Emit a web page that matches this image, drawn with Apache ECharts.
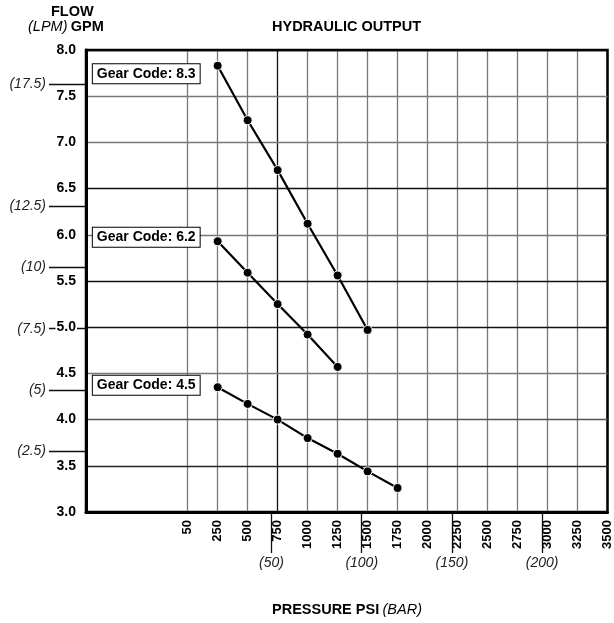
<!DOCTYPE html>
<html>
<head>
<meta charset="utf-8">
<script src="https://cdn.jsdelivr.net/npm/echarts@6/dist/echarts.min.js"></script>
<style>
html,body{margin:0;padding:0;background:#fff}
#chart{width:614px;height:623px}
</style>
</head>
<body>
<div id="chart"></div>
<script>
// x categories (psi), drawn at equal spacing
var pressureLabels = ['50','250','500','750','1000','1250','1500','1750','2000','2250','2500','2750','3000','3250','3500'];
var barTicks = [50, 100, 150, 200];
var lpmTicks = [2.5, 5, 7.5, 10, 12.5, 17.5];

var gear83Psi = ['250','500','750','1000','1250','1500'];
var gear83Gpm = [7.83, 7.24, 6.70, 6.12, 5.56, 4.97];
var gear62Psi = ['250','500','750','1000','1250'];
var gear62Gpm = [5.93, 5.59, 5.25, 4.92, 4.57];
var gear45Psi = ['250','500','750','1000','1250','1500','1750'];
var gear45Gpm = [4.35, 4.17, 4.00, 3.80, 3.63, 3.44, 3.26];

var FONT = 'Liberation Sans';
var xIdx = pressureLabels.map(function(p, i){ return i; });

function makeData(psi, gpm, offset){
	var out = [];
	for(var i = 0; i < psi.length; i++){
		var item = {value: [pressureLabels.indexOf(psi[i]), gpm[i]]};
		if(i == 0){
			item.label = {show: true, offset: offset};
		}
		out.push(item);
	}
	return out;
}

function gearSeries(name, psi, gpm, offset){
	return {
		name: name,
		type: 'line',
		xAxisIndex: 0,
		yAxisIndex: 0,
		data: makeData(psi, gpm, offset),
		symbol: 'circle',
		symbolSize: 9,
		lineStyle: {color: '#000', width: 2.2},
		itemStyle: {color: '#000', borderColor: '#fff', borderWidth: 1},
		label: {
			show: false,
			position: 'left',
			distance: 13,
			formatter: 'Gear Code: ' + name,
			fontFamily: FONT,
			fontWeight: 'bold',
			fontSize: 14,
			color: '#000',
			backgroundColor: '#fff',
			borderColor: '#000',
			borderWidth: 1,
			padding: [3, 4, 2, 4]
		},
		emphasis: {disabled: true},
		animation: false
	};
}

var xLineColors = ['#777','#777','#777','#111','#777','#777','#777','#777','#777','#777','#777','#777','#777','#777','#000'];
var yLineColors = ['#000','#222','#555','#777','#111','#111','#777','#111','#777','#777','#000'];

var myChart = echarts.init(document.getElementById('chart'));
var option = {
	animation: false,
	grid: {
		left: 86, right: 5, top: 50, bottom: 111,
		show: true, borderColor: '#000', borderWidth: 2.5,
		backgroundColor: 'transparent'
	},
	xAxis: [{
		type: 'value',
		min: -3.39,
		max: 14,
		position: 'bottom',
		z: 0,
		axisLine: {show: true, onZero: false, lineStyle: {color: '#000', width: 3}},
		axisTick: {show: false, customValues: xIdx},
		axisLabel: {
			customValues: xIdx,
			rotate: 90,
			margin: 8,
			formatter: function(v){ return pressureLabels[Math.round(v)]; },
			fontFamily: FONT, fontWeight: 'bold', fontSize: 13, color: '#000'
		},
		splitLine: {show: true, lineStyle: {color: xLineColors, width: 1.3}}
	}, {
		type: 'value',
		min: -52.8,
		max: 236.2,
		position: 'bottom',
		z: 0,
		axisLine: {show: false, onZero: false},
		axisTick: {show: true, customValues: barTicks, length: 41, lineStyle: {color: '#111', width: 1.3}},
		axisLabel: {
			customValues: barTicks,
			margin: 44,
			formatter: function(v){ return '(' + v + ')'; },
			fontFamily: FONT, fontStyle: 'italic', fontSize: 14, color: '#222'
		},
		splitLine: {show: false}
	}],
	yAxis: [{
		type: 'value',
		min: 3,
		max: 8,
		interval: 0.5,
		position: 'left',
		z: 1,
		axisLine: {show: true, onZero: false, lineStyle: {color: '#000', width: 3}},
		axisTick: {show: false},
		axisLabel: {
			margin: 9,
			formatter: function(v){ return v.toFixed(1); },
			fontFamily: FONT, fontWeight: 'bold', fontSize: 14, color: '#000',
			backgroundColor: '#fff', padding: [0, 1]
		},
		splitLine: {show: true, lineStyle: {color: yLineColors, width: 1.3}}
	}, {
		type: 'value',
		min: 0,
		max: 18.9,
		position: 'left',
		z: 0,
		axisLine: {show: false, onZero: false},
		axisTick: {show: true, customValues: lpmTicks, length: 37, lineStyle: {color: '#111', width: 1.3}},
		axisLabel: {
			customValues: lpmTicks,
			margin: 40,
			formatter: function(v){ return '(' + v + ')'; },
			fontFamily: FONT, fontStyle: 'italic', fontSize: 14, color: '#222'
		},
		splitLine: {show: false}
	}],
	graphic: [{
		type: 'text', left: 51, top: 4,
		style: {text: 'FLOW', font: 'bold 14.5px "Liberation Sans"', fill: '#000'}
	}, {
		type: 'text', left: 28, top: 19,
		style: {
			text: '{a|(LPM)} {b|GPM}',
			rich: {
				a: {fontFamily: FONT, fontStyle: 'italic', fontSize: 14.5, fill: '#000'},
				b: {fontFamily: FONT, fontWeight: 'bold', fontSize: 14.5, fill: '#000'}
			}
		}
	}, {
		type: 'text', left: 272, top: 19,
		style: {text: 'HYDRAULIC OUTPUT', font: 'bold 14.5px "Liberation Sans"', fill: '#000'}
	}, {
		type: 'text', left: 272, top: 602,
		style: {
			text: '{a|PRESSURE PSI} {b|(BAR)}',
			rich: {
				a: {fontFamily: FONT, fontWeight: 'bold', fontSize: 14.5, fill: '#000'},
				b: {fontFamily: FONT, fontStyle: 'italic', fontSize: 14.5, fill: '#000'}
			}
		}
	}],
	series: [
		gearSeries('8.3', gear83Psi, gear83Gpm, [0, 8]),
		gearSeries('6.2', gear62Psi, gear62Gpm, [0, -4]),
		gearSeries('4.5', gear45Psi, gear45Gpm, [0, -2])
	]
};
myChart.setOption(option);
</script>
</body>
</html>
